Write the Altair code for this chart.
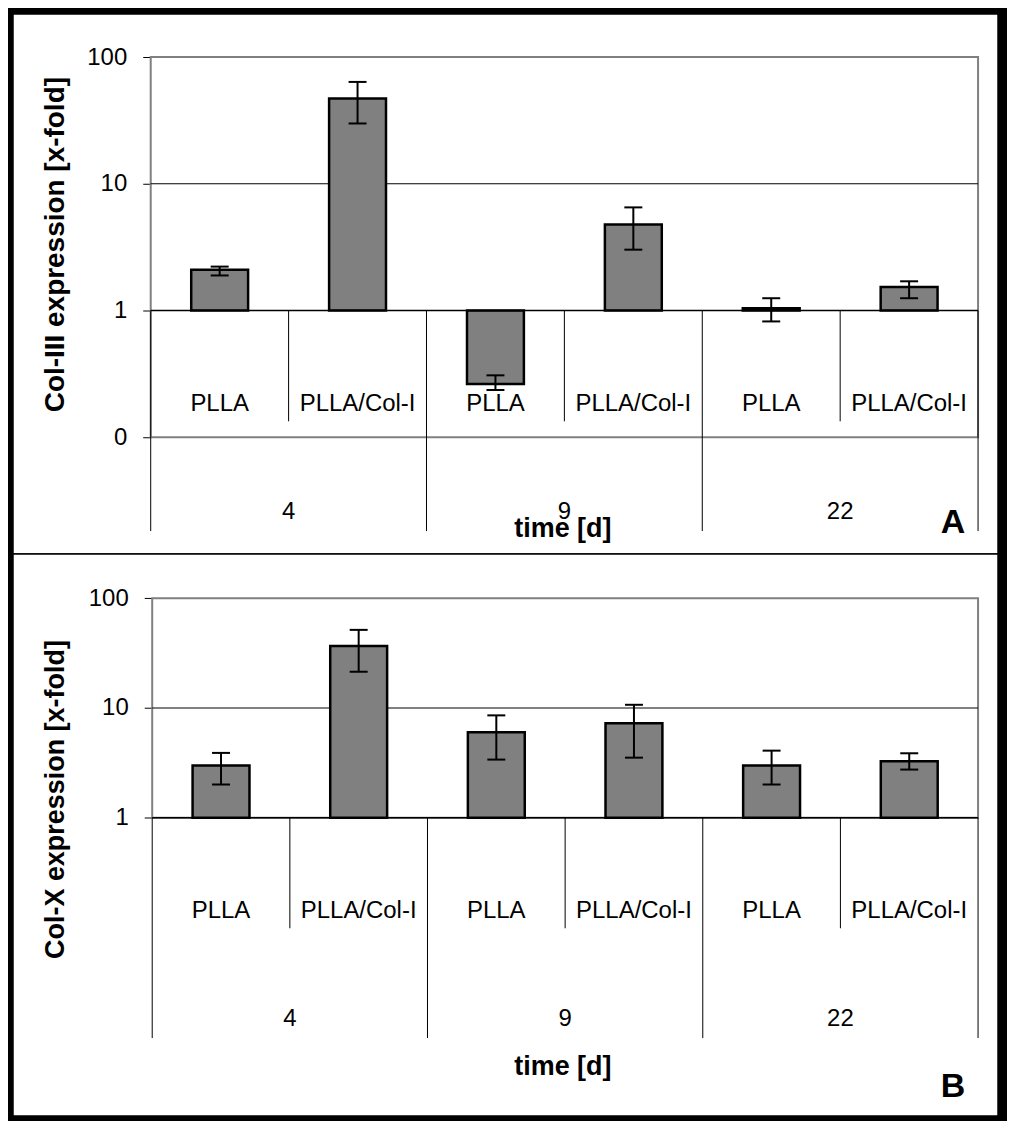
import altair as alt
import pandas as pd

# ------------------------------------------------------------------ data
treatments = ["PLLA", "PLLA/Col-I", "PLLA", "PLLA/Col-I", "PLLA", "PLLA/Col-I"]
day_labels = ["4", "9", "22"]

col3_mean = [2.10, 47.0, 0.263, 4.78, 1.04, 1.53]
col3_hi = [2.22, 63.6, 0.308, 6.51, 1.25, 1.70]
col3_lo = [1.89, 29.9, 0.236, 3.02, 0.82, 1.25]

colx_mean = [2.99, 36.8, 6.00, 7.25, 3.00, 3.27]
colx_hi = [3.90, 51.5, 8.57, 10.7, 4.09, 3.87]
colx_lo = [2.01, 21.4, 3.39, 3.53, 2.01, 2.75]

ticks_a = [0.1, 1, 10, 100]
ticks_b = [1, 10, 100]
grid_a = [10]
grid_b = [10]

title_a = "Col-III expression [x-fold]"
title_b = "Col-X expression [x-fold]"
x_title = "time [d]"

# ------------------------------------------------------------------ layout
FONT = "Liberation Sans"
VIEW_L, VIEW_R = 12, 999
VIEW_W = VIEW_R - VIEW_L
BAR_PX = 57

geom_a = dict(plot_l=150, plot_r=979, view_t=12, view_b=553, y1=309, dec=127,
              sub_bottom=420, grp_bottom=530, sub_base=410, day_base=518,
              xt_base=536, letter_base=532, yt_x=63, yt_y=243, yt_size=28)
geom_b = dict(plot_l=151.5, plot_r=979, view_t=553, view_b=1116, y1=817.3, dec=110,
              sub_bottom=928, grp_bottom=1038, sub_base=918, day_base=1026,
              xt_base=1075, letter_base=1097, yt_x=63, yt_y=799, yt_size=27)


def panel(means, his, los, ticks, grid, ytitle, letter, g):
    unit = (g["plot_r"] - g["plot_l"]) / 6.0
    xs = alt.Scale(domain=[(VIEW_L - g["plot_l"]) / unit, (VIEW_R - g["plot_l"]) / unit],
                   nice=False, zero=False)
    top = 10 ** ((g["y1"] - g["view_t"]) / g["dec"])
    bot = 10 ** (-(g["view_b"] - g["y1"]) / g["dec"])
    ys = alt.Scale(type="log", domain=[bot, top], nice=False)
    H = g["view_b"] - g["view_t"]

    def py(v):
        return v - g["view_t"]

    def px(v):
        return v - VIEW_L

    yaxis = alt.Axis(values=ticks, format="d", grid=False, domain=False, ticks=True,
                     tickSize=8, tickColor="black", tickWidth=1, labelFont=FONT,
                     labelFontSize=24, labelColor="black", labelPadding=16,
                     offset=-(g["plot_l"] - VIEW_L), title=None)

    half = BAR_PX / 2.0 / unit
    bars_df = pd.DataFrame({
        "treatment": treatments,
        "day": [day_labels[i // 2] for i in range(len(treatments))],
        "pos": [i + 0.5 for i in range(len(treatments))],
        "mean": means, "hi": his, "lo": los,
    })
    bars_df["left"] = bars_df["pos"] - half
    bars_df["right"] = bars_df["pos"] + half
    bars_df["base"] = 1.0

    frame_df = pd.DataFrame({"x0": [0], "x1": [6], "y0": [min(ticks)], "y1": [max(ticks)]})
    grid_df = pd.DataFrame({"v": grid, "x0": 0, "x1": 6})
    base_df = pd.DataFrame({"v": [1.0], "x0": [0], "x1": [6]})
    grp_df = pd.DataFrame({"pos": [0, 2, 4, 6], "v": 1.0})
    sub_df = pd.DataFrame({"pos": [1, 3, 5], "v": 1.0})
    day_df = pd.DataFrame({"day": day_labels, "pos": [1, 3, 5]})

    X = lambda f: alt.X(f, scale=xs, axis=None)
    Y = lambda f: alt.Y(f, scale=ys, axis=yaxis)

    frame = alt.Chart(frame_df).mark_rect(fill="white", stroke="#808080", strokeWidth=2).encode(
        x=X("x0:Q"), x2="x1:Q", y=Y("y1:Q"), y2="y0:Q")
    gridl = alt.Chart(grid_df).mark_rule(color="black", strokeWidth=1).encode(
        x=X("x0:Q"), x2="x1:Q", y=Y("v:Q"))
    bars = alt.Chart(bars_df).mark_rect(fill="#808080", stroke="black", strokeWidth=2.5).encode(
        x=X("left:Q"), x2="right:Q", y=Y("mean:Q"), y2="base:Q")
    err = alt.Chart(bars_df).mark_rule(color="black", strokeWidth=2).encode(
        x=X("pos:Q"), y=Y("lo:Q"), y2="hi:Q")
    cap_hi = alt.Chart(bars_df).mark_tick(color="black", orient="horizontal", size=18,
                                          thickness=2, opacity=1).encode(x=X("pos:Q"), y=Y("hi:Q"))
    cap_lo = alt.Chart(bars_df).mark_tick(color="black", orient="horizontal", size=18,
                                          thickness=2, opacity=1).encode(x=X("pos:Q"), y=Y("lo:Q"))
    baseline = alt.Chart(base_df).mark_rule(color="black", strokeWidth=1.5).encode(
        x=X("x0:Q"), x2="x1:Q", y=Y("v:Q"))
    grp_sep = alt.Chart(grp_df).mark_rule(color="black", strokeWidth=1).encode(
        x=X("pos:Q"), y=Y("v:Q"), y2=alt.value(py(g["grp_bottom"])))
    sub_sep = alt.Chart(sub_df).mark_rule(color="black", strokeWidth=1).encode(
        x=X("pos:Q"), y=Y("v:Q"), y2=alt.value(py(g["sub_bottom"])))
    sub_txt = alt.Chart(bars_df).mark_text(font=FONT, fontSize=24, color="black",
                                           align="center", baseline="alphabetic").encode(
        x=X("pos:Q"), y=alt.value(py(g["sub_base"])), text="treatment:N")
    day_txt = alt.Chart(day_df).mark_text(font=FONT, fontSize=24, color="black",
                                          align="center", baseline="alphabetic").encode(
        x=X("pos:Q"), y=alt.value(py(g["day_base"])), text="day:N")
    xt = alt.Chart(pd.DataFrame({"t": [x_title]})).mark_text(
        font=FONT, fontSize=27, fontWeight="bold", color="black", align="center",
        baseline="alphabetic").encode(x=alt.value(px(563)), y=alt.value(py(g["xt_base"])), text="t:N")
    yt = alt.Chart(pd.DataFrame({"t": [ytitle]})).mark_text(
        font=FONT, fontSize=g["yt_size"], fontWeight="bold", color="black", align="center",
        baseline="alphabetic", angle=270).encode(
        x=alt.value(px(g["yt_x"])), y=alt.value(py(g["yt_y"])), text="t:N")
    lt = alt.Chart(pd.DataFrame({"t": [letter]})).mark_text(
        font=FONT, fontSize=34, fontWeight="bold", color="black", align="center",
        baseline="alphabetic").encode(x=alt.value(px(954)), y=alt.value(py(g["letter_base"])), text="t:N")

    return alt.layer(frame, gridl, bars, err, cap_hi, cap_lo, baseline, grp_sep, sub_sep,
                     sub_txt, day_txt, xt, yt, lt).properties(width=VIEW_W, height=H)


pa = panel(col3_mean, col3_hi, col3_lo, ticks_a, grid_a, title_a, "A", geom_a)
pb = panel(colx_mean, colx_hi, colx_lo, ticks_b, grid_b, title_b, "B", geom_b)

chart = alt.vconcat(pa, pb, spacing=0, bounds="flush").properties(
    background="black",
    padding={"left": 4, "top": 4, "right": 8, "bottom": 3},
).configure_view(fill="white", stroke="black", strokeWidth=1.5).configure_axis(grid=False)

chart.save("out.html", embed_options={"renderer": "svg", "actions": False})
